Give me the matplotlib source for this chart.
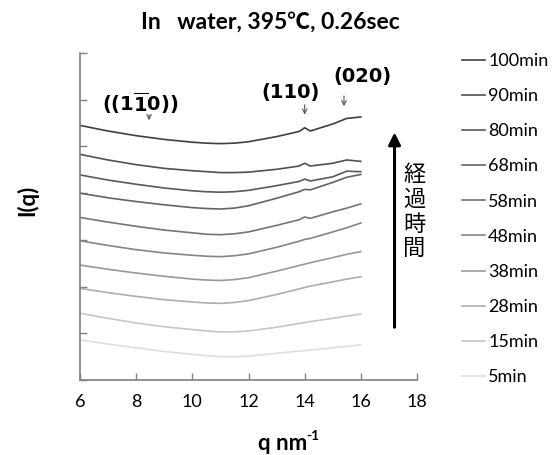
import matplotlib
matplotlib.use("Agg")
import matplotlib.pyplot as plt

plt.rcParams["font.family"] = ["Lato", "Noto Sans CJK JP", "DejaVu Sans"]
plt.rcParams["mathtext.fontset"] = "dejavusans"

# scattering vector q (nm^-1) and curves
q = [6, 7, 8, 9, 10, 10.5, 11, 11.5, 12, 13, 13.8, 14, 14.2, 15, 15.5, 16]
labels = ["100min", "90min", "80min", "68min", "58min",
          "48min", "38min", "28min", "15min", "5min"]
intensity = [
    [5.45, 5.33, 5.23, 5.15, 5.09, 5.07, 5.06, 5.07, 5.10, 5.21, 5.32, 5.40, 5.33, 5.48, 5.60, 5.63],
    [4.83, 4.71, 4.61, 4.53, 4.48, 4.46, 4.44, 4.44, 4.45, 4.51, 4.58, 4.64, 4.58, 4.64, 4.71, 4.68],
    [4.39, 4.28, 4.19, 4.11, 4.05, 4.03, 4.02, 4.03, 4.06, 4.16, 4.25, 4.30, 4.26, 4.35, 4.47, 4.46],
    [4.00, 3.90, 3.82, 3.75, 3.69, 3.67, 3.66, 3.68, 3.73, 3.89, 4.03, 4.08, 4.07, 4.23, 4.34, 4.40],
    [3.48, 3.38, 3.29, 3.21, 3.15, 3.12, 3.11, 3.13, 3.17, 3.31, 3.43, 3.49, 3.46, 3.60, 3.68, 3.77],
    [2.98, 2.88, 2.79, 2.72, 2.67, 2.65, 2.64, 2.66, 2.70, 2.84, 2.97, 3.01, 3.03, 3.17, 3.26, 3.36],
    [2.46, 2.37, 2.29, 2.22, 2.16, 2.14, 2.13, 2.15, 2.19, 2.33, 2.45, 2.48, 2.51, 2.62, 2.69, 2.75],
    [1.96, 1.87, 1.79, 1.72, 1.67, 1.65, 1.64, 1.66, 1.70, 1.83, 1.95, 1.98, 2.01, 2.10, 2.16, 2.21],
    [1.43, 1.32, 1.22, 1.14, 1.08, 1.05, 1.03, 1.03, 1.05, 1.13, 1.21, 1.23, 1.25, 1.32, 1.37, 1.41],
    [0.86, 0.77, 0.69, 0.61, 0.55, 0.52, 0.50, 0.50, 0.51, 0.57, 0.62, 0.63, 0.64, 0.69, 0.72, 0.75],
]
colors = ["#404040", "#505050", "#595959", "#646464", "#747474",
          "#858585", "#999999", "#adadad", "#c6c6c6", "#dedede"]

# peak markers: label, text q, text y, arrow q, arrow top, arrow tip
peaks = [
    (r"$\mathbf{((1\overline{1}0))}$", 8.14, 5.93, 8.46, 5.74, 5.50),
    ("(110)", 13.51, 6.15, 14.0, 5.95, 5.62),
    ("(020)", 16.04, 6.49, 15.4, 6.14, 5.80),
]

fig = plt.figure(figsize=(5.52, 4.55), dpi=100)
ax = fig.add_axes([80 / 552, 1 - 380 / 455, 337 / 552, 327 / 455])

for y, lab, c in zip(intensity, labels, colors):
    ax.plot(q, y, color=c, lw=1.2, label=lab)

ax.set_xlim(6, 18)
ax.set_ylim(0, 7)
ax.set_xticks(range(6, 19, 2))
ax.set_yticks(range(0, 8))
ax.set_yticklabels([])
ax.tick_params(direction="in", length=5, width=1, color="#808080", labelsize=13, pad=10)
for s in ["top", "right"]:
    ax.spines[s].set_visible(False)
for s in ["left", "bottom"]:
    ax.spines[s].set_color("#808080")
    ax.spines[s].set_linewidth(1.2)

for txt, tq, ty, aq, atop, atip in peaks:
    ax.annotate("", xy=(aq, atip), xytext=(aq, atop),
                arrowprops=dict(arrowstyle="->", color="#555555", lw=0.8,
                                mutation_scale=8))
    ax.text(tq, ty, txt, ha="center", va="center", fontsize=14,
            fontweight="bold", family="DejaVu Sans")

# elapsed time arrow
ax.annotate("", xy=(17.2, 5.3), xytext=(17.2, 1.13),
            arrowprops=dict(arrowstyle="-|>", color="black", lw=2.2,
                            mutation_scale=18, shrinkA=0, shrinkB=0),
            annotation_clip=False)
ax.text(17.9, 3.6, "\n".join("経過時間"), ha="center", va="center",
        fontsize=16, linespacing=1.25)

fig.text(270 / 552, 1 - 22 / 455, "In   water, 395\u2103, 0.26sec",
         ha="center", va="center", fontsize=16.5, fontweight="bold")
fig.text(283 / 552, 1 - 443 / 455, "q nm",
         ha="center", va="center", fontsize=16, fontweight="bold")
fig.text(306 / 552, 1 - 436 / 455, "-1",
         ha="left", va="center", fontsize=10, fontweight="bold")
fig.text(27 / 552, 1 - 200 / 455, "I(q)", rotation=90,
         ha="center", va="center", fontsize=16, fontweight="bold")

ax.legend(loc="upper left", bbox_to_anchor=(462 / 552, 1 - 53 / 455),
          bbox_transform=fig.transFigure, frameon=False, borderpad=0,
          borderaxespad=0, handlelength=1.3, handletextpad=0.15,
          labelspacing=1.06, fontsize=13)

fig.savefig("out.png", dpi=100)
